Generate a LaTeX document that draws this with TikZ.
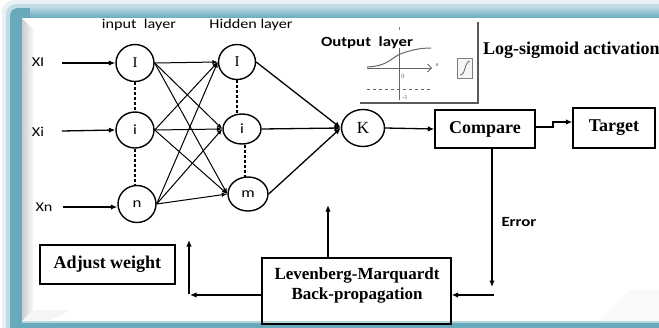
\documentclass[tikz,border=0pt]{standalone}
\usepackage{fontspec}
\setmainfont{Liberation Serif}
\newfontfamily\lab[FakeStretch=1.2]{Carlito}
\usetikzlibrary{shapes.geometric,arrows.meta}
\definecolor{frameteal}{RGB}{104,170,188}
\definecolor{frametop}{RGB}{178,214,224}
\definecolor{inkgray}{RGB}{90,90,90}
\begin{document}
\begin{tikzpicture}[x=1pt,y=-1pt,
  arr/.style={-{Latex[length=6.5pt,width=5.5pt]}, line width=1.3pt},
  neuron/.style={ellipse, draw, line width=1.4pt, inner sep=0pt},
  box/.style={rectangle, draw, line width=1.3pt, inner sep=0pt, font=\fontsize{18}{20}\selectfont\bfseries},
  sanslab/.style={font=\lab\fontsize{13.5}{15}\selectfont, inner sep=0pt},
  dots/.style={line width=1.5pt, dash pattern=on 3pt off 2pt}]
\useasboundingbox (0,0) rectangle (659,327);
% ---------- frame ----------
\fill[white] (0,0) rectangle (659,327);
\fill[frameteal!15, rounded corners=12pt] (2,0) rectangle (700,345);
\fill[frameteal!40, rounded corners=10pt] (6,4) rectangle (700,345);
\fill[frameteal, rounded corners=8pt] (10,8) rectangle (700,345);
\shade[top color=frametop, bottom color=frameteal] (30,8) rectangle (659,18);
\fill[white] (22,18) rectangle (659,321);
\fill[frametop] (22,321) rectangle (659,323);
\shade[left color=gray!40, right color=gray!6] (22,18) -- (33,29) -- (33,310) -- (22,321) -- cycle;
\fill[gray!8] (22,321) -- (33,310) -- (70,310) -- (48,321) -- cycle;
\fill[gray!5] (600,321) -- (630,290) -- (659,290) -- (659,321) -- cycle;
% ---------- titles ----------
\node[sanslab, font=\lab\fontsize{13.5}{15}\selectfont] (tin) at (139,25) {input\ \ layer};
\node[sanslab, font=\lab\fontsize{13.5}{15}\selectfont] (thid) at (251,25) {Hidden layer};
% ---------- output-layer inset ----------
\draw[inkgray, line width=1.4pt] (360,103) -- (478,103) -- (478,22);
\node[sanslab, font=\lab\fontsize{14}{16}\selectfont\bfseries] (tout) at (367,43) {Output\ \ layer};
\draw[gray!80!black, line width=0.8pt, -{Straight Barb[length=4pt]}] (367,68) -- (432,68);
\draw[gray!80!black, line width=0.8pt] (399,48) -- (399,100);
\draw[gray, line width=0.5pt] (399,27) -- (399,30);
\draw[gray!80!black, line width=1pt] (367,67) .. controls (390,66) and (392,56) .. (403,53) .. controls (412,50) and (420,48) .. (431,48);
\draw[gray!80!black, line width=0.7pt, dashed] (367,89) -- (432,89);
\node[font=\fontsize{6.5}{7}\selectfont, text=gray!80!black, inner sep=0pt] (lz) at (403,76) {0};
\node[font=\fontsize{6.5}{7}\selectfont, text=gray!80!black, inner sep=0pt] (lm1) at (405,97) {-1};
\node[font=\fontsize{6.5}{7}\selectfont, text=gray!80!black, inner sep=0pt] (la) at (437,65) {a};
\node[draw=gray, line width=0.9pt, fill=gray!8, minimum width=15pt, minimum height=20pt, inner sep=0pt] (icon) at (465,68) {};
\draw[gray!80!black, line width=0.8pt] (460,75) .. controls (466,75) and (464,62) .. (470,61);
\node[anchor=west, font=\fontsize{18}{20}\selectfont\bfseries, inner sep=0pt] (tlog) at (483,50) {Log-sigmoid activation};
% ---------- neurons ----------
\node[neuron, minimum width=38pt, minimum height=37pt] (i1) at (135,63) {\fontsize{15}{17}\selectfont I};
\node[neuron, minimum width=38pt, minimum height=36pt] (i2) at (135,130) {\lab\fontsize{14}{16}\selectfont i};
\node[neuron, minimum width=38pt, minimum height=37pt] (i3) at (137,204) {\lab\fontsize{14}{16}\selectfont n};
\node[neuron, minimum width=37pt, minimum height=35pt] (h1) at (237,62) {\fontsize{15}{17}\selectfont I};
\node[neuron, minimum width=38pt, minimum height=30pt] (h2) at (242,129) {\lab\fontsize{14}{16}\selectfont i};
\node[neuron, minimum width=40pt, minimum height=34pt] (h3) at (248,194) {\lab\fontsize{14}{16}\selectfont m};
\node[neuron, minimum width=43pt, minimum height=37pt] (k) at (363,128) {\fontsize{17}{19}\selectfont K};
% dashed links inside layers
\draw[dots] (i1) -- (i2);
\draw[dots] (i2.south) -- (i2.south |- i3.north);
\draw[dots] (h1.south) -- (h1.south |- h2.north);
\draw[dots] (h2.south) ++(3,0) -- (245,177);
% ---------- inputs ----------
\node[sanslab] (x1) at (38,62) {XI};
\node[sanslab] (x2) at (38,132) {Xi};
\node[sanslab] (x3) at (44,207) {Xn};
\coordinate (s1) at (62,63);
\coordinate (s2) at (62,131);
\coordinate (s3) at (63,207);
\draw[arr] (s1) -- (i1.west);
\draw[arr] (s2) -- (i2.west);
\draw[arr] (s3) -- (i3.west |- s3);
% ---------- input -> hidden ----------
\foreach \a in {i1,i2,i3}{
  \foreach \b in {h1,h2,h3}{
    \draw[-{Latex[length=5.5pt,width=4.5pt]}, line width=1pt] (\a.east) -- (\b.west);
  }
}
% ---------- hidden -> output ----------
\draw[arr] (h1.east) -- (k.west);
\draw[arr] (h2.east) -- (k.west);
\draw[arr] (h3.east) -- (k.west);
% ---------- boxes ----------
\node[box, minimum width=100pt, minimum height=38pt] (cmp) at (485,129) {Compare};
\node[box, minimum width=82pt, minimum height=40pt] (tgt) at (614,128) {Target};
\node[box, minimum width=189pt, minimum height=66pt] (lm) at (356.5,291) {};
\node[align=center, font=\fontsize{17}{20}\selectfont\bfseries, inner sep=0pt] (lmt) at (357,285) {Levenberg-Marquardt\\Back-propagation};
\node[box, minimum width=135pt, minimum height=39pt] (adj) at (107.5,264.5) {Adjust weight};
\node[font=\lab\fontsize{14}{16}\selectfont\bfseries, inner sep=0pt] (err) at (519,222) {Error};
% ---------- connectors ----------
\draw[arr] (k.east) -- (cmp.west);
\coordinate (j1) at (553,127);
\coordinate (j2) at (553,122);
\draw[arr] (cmp.east |- j1) -- (j1) -- (j2) -- (tgt.west |- j2);
\coordinate (e1) at (492,287);
\draw[arr] (cmp.south -| e1) -- (e1);
\coordinate (e2) at (494,295);
\draw[arr] (e2) -- (lm.east |- e2);
\coordinate (u1) at (328,205);
\draw[arr] (lm.north -| u1) -- (u1);
\coordinate (c1) at (190,295);
\coordinate (c2) at (189,240);
\draw[arr] (lm.west |- c1) -- (c1);
\draw[arr] (189,294) -- (c2);
\end{tikzpicture}
\end{document}
